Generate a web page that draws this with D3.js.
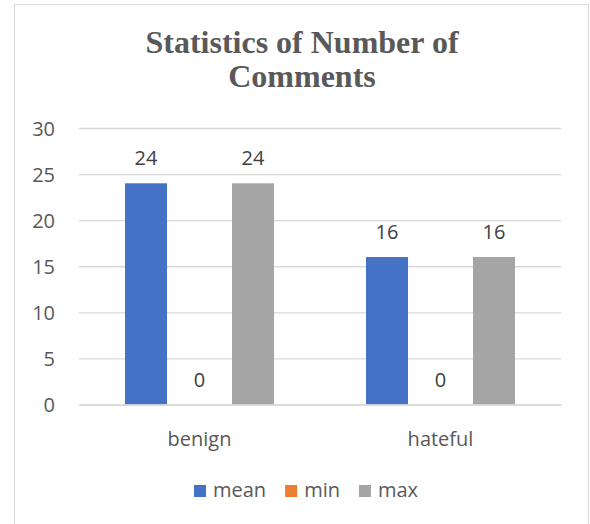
<!DOCTYPE html>
<html>
<head>
<meta charset="utf-8">
<script src="https://cdn.jsdelivr.net/npm/d3@7"></script>
<style>
  html, body { margin: 0; padding: 0; background: #ffffff; }
  svg { display: block; }
</style>
</head>
<body>
<svg id="chart" width="590" height="524"></svg>
<script>
// Comment-count statistics per class
const categories = ["benign", "hateful"];
const seriesNames = ["mean", "min", "max"];
const meanValues = [24, 16];
const minValues = [0, 0];
const maxValues = [24, 16];
const yTicks = [0, 5, 10, 15, 20, 25, 30];
const titleLines = ["Statistics of Number of", "Comments"];

const seriesValues = { mean: meanValues, min: minValues, max: maxValues };
const colors = { mean: "#4472C4", min: "#ED7D31", max: "#A5A5A5" };

const svg = d3.select("#chart");
const textFont = "'Open Sans', 'Noto Sans', sans-serif";

// Outer chart frame
svg.append("rect")
  .attr("x", 14.5).attr("y", 4.5)
  .attr("width", 574).attr("height", 540)
  .attr("fill", "none").attr("stroke", "#d9d9d9").attr("stroke-width", 1);

// Title
svg.append("text")
  .attr("text-anchor", "middle")
  .attr("font-family", "'Liberation Serif', 'Times New Roman', serif")
  .attr("font-weight", "bold")
  .attr("font-size", 32)
  .attr("fill", "#595959")
  .selectAll("tspan")
  .data(titleLines)
  .join("tspan")
  .attr("x", 302)
  .attr("y", (d, i) => 53 + i * 34)
  .text(d => d);

// Scales
const plot = { left: 79, right: 561, top: 128, bottom: 404.5 };
const x0 = d3.scaleBand().domain(categories).range([plot.left, plot.right]);
const x1 = d3.scaleBand().domain(seriesNames).range([0, x0.bandwidth()])
  .paddingInner(0.215).paddingOuter(0.86);
const y = d3.scaleLinear().domain([0, 30]).range([plot.bottom, plot.top]);

// Gridlines and value labels on the left
const yAxis = d3.axisLeft(y).tickValues(yTicks).tickSize(-(plot.right - plot.left)).tickPadding(24);
const gy = svg.append("g").attr("transform", `translate(${plot.left},0)`).call(yAxis);
gy.select(".domain").remove();
gy.selectAll(".tick line").attr("stroke", "#d9d9d9").attr("stroke-width", 1.3);
gy.selectAll(".tick text")
  .attr("font-family", textFont).attr("font-size", 20).attr("fill", "#595959")
  .attr("dy", "0.35em");

// Bars
const rows = categories.map((c, i) => ({
  category: c,
  values: seriesNames.map(s => ({ series: s, value: seriesValues[s][i] }))
}));

const groups = svg.append("g").selectAll("g")
  .data(rows).join("g")
  .attr("transform", d => `translate(${x0(d.category)},0)`);

groups.selectAll("rect")
  .data(d => d.values).join("rect")
  .attr("x", d => x1(d.series))
  .attr("width", x1.bandwidth())
  .attr("y", d => y(d.value))
  .attr("height", d => y(0) - y(d.value))
  .attr("fill", d => colors[d.series]);

groups.selectAll("text")
  .data(d => d.values).join("text")
  .attr("x", d => x1(d.series) + x1.bandwidth() / 2)
  .attr("y", d => y(d.value) - 18)
  .attr("text-anchor", "middle")
  .attr("font-family", textFont).attr("font-size", 20).attr("fill", "#404040")
  .text(d => d.value);

// Category axis
const xAxis = d3.axisBottom(x0).tickSize(0).tickPadding(0);
const gx = svg.append("g").attr("transform", `translate(0,${plot.bottom})`).call(xAxis);
gx.select(".domain").attr("stroke", "#d9d9d9").attr("stroke-width", 1.3);
gx.selectAll(".tick text")
  .attr("font-family", textFont).attr("font-size", 20).attr("fill", "#595959")
  .attr("dy", 0).attr("y", 41);

// Legend
const legend = svg.append("g");
let lx = 194;
seriesNames.forEach(s => {
  legend.append("rect")
    .attr("x", lx).attr("y", 485).attr("width", 12).attr("height", 12)
    .attr("fill", colors[s]);
  const t = legend.append("text")
    .attr("x", lx + 19).attr("y", 497)
    .attr("font-family", textFont).attr("font-size", 20).attr("fill", "#595959")
    .text(s);
  lx += 19 + t.node().getComputedTextLength() + 19;
});
</script>
</body>
</html>
